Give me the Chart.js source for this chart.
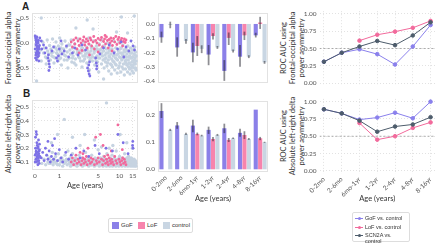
<!DOCTYPE html>
<html>
<head>
<meta charset="utf-8">
<script src="https://cdn.jsdelivr.net/npm/chart.js@4.4.0/dist/chart.umd.min.js"></script>
<style>
  body { margin: 0; background: #fff; width: 440px; height: 244px; position: relative; overflow: hidden; font-family: Lato, sans-serif; }
  canvas { position: absolute; }
  .panel { position: absolute; font-weight: bold; font-size: 10px; color: #222; font-family: "Liberation Sans", Arial, sans-serif; }
  .ytitle { position: absolute; transform: translate(-50%, -50%) rotate(-90deg); white-space: pre; text-align: center; font-size: 7.5px; line-height: 9px; color: #333; }
  .legend { position: absolute; border: 1px solid #ddd; border-radius: 2px; font-family: "Liberation Sans", Arial, sans-serif; color: #333; background: #fff; }
  .legend span { position: absolute; }
</style>
</head>
<body>
<div class="panel" style="left:22px;top:1px">A</div>
<div class="panel" style="left:23px;top:88px">B</div>

<div class="ytitle" style="left:13px;top:48px">Frontal-occipital alpha
power asymmetry</div>
<div class="ytitle" style="left:13px;top:134px">Absolute left-right delta
power asymmetry</div>
<div class="ytitle" style="left:292px;top:48px">ROC AUC using
Frontal-occipital alpha
power asymmetry</div>
<div class="ytitle" style="left:292px;top:136px">ROC AUC using
Absolute left-right delta
power asymmetry</div>

<canvas id="scatterA" width="142" height="91" style="left:0;top:0"></canvas>
<canvas id="barA" width="130" height="91" style="left:140px;top:0"></canvas>
<canvas id="rocA" width="170" height="94" style="left:270px;top:0"></canvas>
<canvas id="scatterB" width="142" height="102" style="left:0;top:88px"></canvas>
<canvas id="barB" width="130" height="115" style="left:140px;top:88px"></canvas>
<canvas id="rocB" width="170" height="115" style="left:270px;top:88px"></canvas>

<!-- bar / scatter legend -->
<div class="legend" style="left:108px;top:218px;width:83px;height:13px;font-size:6px">
  <span style="left:3px;top:3px;width:7px;height:7px;background:#8b80e8"></span>
  <span style="left:12px;top:3px">GoF</span>
  <span style="left:29px;top:3px;width:7px;height:7px;background:#f784ad"></span>
  <span style="left:38px;top:3px">LoF</span>
  <span style="left:54px;top:3px;width:7px;height:7px;background:#c9d6e3"></span>
  <span style="left:63px;top:3px">control</span>
</div>

<!-- ROC legend -->
<div class="legend" style="left:352px;top:212px;width:56px;height:28px;font-size:5.5px">
  <span style="left:2px;top:5px;width:8px;height:1px;background:#8a80ec"></span>
  <span style="left:4.5px;top:4px;width:3px;height:3px;border-radius:50%;background:#8a80ec"></span>
  <span style="left:12px;top:2px">GoF vs. control</span>
  <span style="left:2px;top:13.5px;width:8px;height:1px;background:#f26a9c"></span>
  <span style="left:4.5px;top:12.5px;width:3px;height:3px;border-radius:50%;background:#f26a9c"></span>
  <span style="left:12px;top:10.5px">LoF vs. control</span>
  <span style="left:2px;top:22px;width:8px;height:1px;background:#4d5c6b"></span>
  <span style="left:4.5px;top:21px;width:3px;height:3px;border-radius:50%;background:#4d5c6b"></span>
  <span style="left:12px;top:19px">SCN2A vs. control</span>
</div>

<script>
// ---- data ----
const ageTicks = [0, 1, 5, 10, 15];
const ageGroups = ['0-2mo', '2-6mo', '6mo-1yr', '1-2yr', '2-4yr', '4-8yr', '8-16yr'];

// scatter A: [age in years, frontal-occipital alpha asymmetry]
const gofAlphaPts = [[0.01,0.14],[0.02,0.1],[0.03,0.06],[0.04,0.02],[0.05,-0.02],[0.06,-0.06],[0.07,-0.1],[0.08,-0.14],[0.09,-0.18],[0.1,-0.22],
  [0.11,-0.26],[0.02,-0.3],[0.03,-0.04],[0.05,0.08],[0.07,-0.16],[0.09,0.04],[0.12,-0.08],[0.13,-0.12],[0.04,-0.2],[0.06,0.12],
  [0.08,-0.28],[0.1,0.0],[0.12,-0.36],[0.14,-0.05],[0.15,0.1],[0.01,-0.12],[0.03,-0.24],[0.11,0.05],[0.13,-0.2],[0.05,-0.34],
  [0.22,-0.12],[0.28,-0.04],[0.33,-0.2],[0.38,-0.1],[0.45,-0.3],[0.48,-0.36],[0.5,-0.42],[0.52,-0.48],[0.49,-0.55],[0.47,-0.24],
  [0.62,-0.16],[0.7,-0.08],[0.85,-0.3],[0.9,-0.36],[0.95,-0.26],[1.0,-0.12],[1.15,-0.22],[1.3,-0.16],[1.45,-0.06],[1.6,-0.28],
  [1.9,-0.2],[2.1,-0.1],[2.4,-0.24],[2.8,-0.04],[3.2,-0.14],[3.45,-0.5],[3.55,-0.56],[3.65,-0.62],[3.75,-0.66],[3.6,-0.44],
  [3.7,-0.38],[4.6,-0.3],[4.7,-0.4],[4.8,-0.46],[4.75,-0.52],[6.0,-0.1],[7.2,-0.04],[8.4,-0.2],[9.4,-0.12],[10.5,0.02],
  [12.2,-0.08],[13.3,-0.16],[14.2,0.04],[15.1,-0.06],[15.8,-0.14],[1.1,0.04],[0.2,0.04],[5.3,-0.22],[11.4,-0.28]];
const lofAlphaPts = [[1.8,0.02],[1.9,-0.08],[2.0,0.06],[2.1,-0.02],[2.2,0.1],[2.3,-0.12],[2.4,0.04],[2.5,-0.05],[2.6,0.08],[2.7,0.0],
  [2.8,-0.15],[2.9,0.05],[3.0,0.12],[3.1,-0.04],[3.2,0.02],[3.3,0.08],[3.4,-0.1],[3.5,0.04],[3.6,-0.02],[3.8,0.1],
  [3.9,0.06],[4.0,-0.06],[4.2,0.02],[4.3,0.13],[4.4,-0.12],[4.6,0.05],[4.8,0.0],[5.0,0.09],[5.2,-0.04],[5.4,0.06],
  [5.6,0.11],[5.8,-0.08],[6.0,0.03],[6.2,0.08],[6.4,-0.02],[6.6,0.12],[6.8,0.05],[7.0,-0.1],[7.2,0.07],[7.4,0.0],
  [7.6,0.1],[7.8,0.04],[8.0,-0.05],[8.3,0.09],[8.6,0.02],[8.9,0.13],[9.2,-0.03],[9.5,0.07],[9.8,0.11],[10.1,0.0],
  [10.4,0.05],[10.7,0.09],[11.0,-0.06],[11.3,0.03],[11.6,0.08],[11.9,0.01],[12.2,0.06],[2.5,-0.2],[5.0,-0.18],[7.9,-0.16],
  [3.7,-0.24],[6.3,0.15]];
const ctrlAlphaPts = [[0.03,-0.18],[0.06,-0.3],[0.1,-0.08],[0.12,-0.24],[0.18,-0.14],[0.2,-0.36],[0.25,0.02],[0.28,-0.2],
  [0.32,-0.1],[0.35,-0.28],[0.38,-0.42],[0.42,0.06],[0.44,-0.16],[0.48,-0.22],[0.52,-0.05],[0.55,-0.34],
  [0.58,-0.12],[0.62,-0.26],[0.65,0.08],[0.68,-0.18],[0.72,-0.4],[0.75,-0.08],[0.78,-0.3],[0.82,0.02],
  [0.85,-0.2],[0.88,-0.14],[0.92,-0.36],[0.95,-0.06],[0.98,-0.24],[1.02,0.1],[1.05,-0.16],[1.08,-0.3],
  [1.12,-0.44],[1.15,-0.02],[1.2,-0.2],[1.25,-0.12],[1.3,-0.34],[1.35,0.04],[1.4,-0.26],[1.45,-0.08],
  [1.5,-0.18],[1.55,-0.5],[1.6,-0.04],[1.65,-0.3],[1.7,-0.14],[1.75,-0.22],[1.8,0.06],[1.85,-0.38],
  [1.9,-0.1],[1.95,-0.26],[2.0,-0.18],[2.1,-0.02],[2.15,-0.32],[2.2,-0.44],[2.25,-0.12],[2.3,-0.22],
  [2.4,0.08],[2.45,-0.28],[2.5,-0.16],[2.6,-0.06],[2.65,-0.36],[2.7,-0.2],[2.8,-0.48],[2.85,-0.1],
  [2.9,-0.26],[3.0,0.02],[3.05,-0.16],[3.1,-0.32],[3.2,-0.22],[3.3,-0.08],[3.35,-0.4],[3.4,-0.14],
  [3.5,-0.28],[3.6,0.1],[3.65,-0.2],[3.7,-0.54],[3.8,-0.04],[3.85,-0.3],[3.9,-0.16],[4.0,-0.24],
  [4.1,-0.36],[4.2,-0.1],[4.3,0.04],[4.35,-0.2],[4.45,-0.44],[4.5,-0.3],[4.6,-0.14],[4.7,-0.06],
  [4.8,-0.26],[4.9,-0.38],[5.0,-0.18],[5.1,-0.58],[5.2,-0.02],[5.3,-0.3],[5.4,-0.22],[5.5,-0.12],
  [5.6,-0.42],[5.7,0.06],[5.8,-0.26],[5.9,-0.34],[6.0,-0.16],[6.1,-0.5],[6.2,-0.08],[6.3,-0.24],
  [6.4,-0.38],[6.5,-0.3],[6.6,-0.12],[6.7,-0.46],[6.8,0.0],[6.9,-0.2],[7.0,-0.34],[7.1,-0.56],
  [7.2,-0.16],[7.3,-0.28],[7.4,-0.06],[7.5,-0.42],[7.6,-0.22],[7.7,-0.62],[7.8,-0.32],[7.9,-0.12],
  [8.0,-0.48],[8.2,-0.26],[8.3,0.04],[8.4,-0.38],[8.5,-0.18],[8.6,-0.54],[8.8,-0.3],[8.9,-0.1],
  [9.0,-0.44],[9.2,-0.24],[9.3,-0.6],[9.4,-0.34],[9.6,-0.16],[9.7,-0.5],[9.8,0.02],[10.0,-0.28],
  [10.1,-0.4],[10.3,-0.2],[10.4,-0.58],[10.5,-0.1],[10.7,-0.34],[10.8,-0.48],[11.0,-0.24],[11.1,-0.04],
  [11.3,-0.42],[11.4,-0.3],[11.6,-0.64],[11.7,-0.18],[11.9,-0.36],[12.0,-0.52],[12.2,-0.12],[12.3,-0.28],
  [12.5,-0.44],[12.6,-0.22],[12.8,-0.58],[12.9,-0.06],[13.1,-0.34],[13.2,-0.48],[13.4,-0.16],[13.5,-0.4],
  [13.7,-0.26],[13.8,-0.62],[14.0,-0.1],[14.1,-0.3],[14.3,-0.5],[14.4,-0.2],[14.6,-0.38],[14.7,-0.56],
  [14.9,-0.14],[15.0,-0.28],[15.2,-0.44],[15.3,-0.6],[15.5,-0.22],[15.6,-0.34],[15.8,-0.5],[15.9,-0.08],
  [16.1,-0.3],[16.2,-0.42],[16.4,-0.18],[16.5,-0.54],[16.6,-0.36],
  [0.4,-0.3],[0.6,-0.2],[0.7,-0.28],[0.8,-0.1],[0.9,-0.22],[1.0,-0.32],[1.1,-0.1],[1.3,-0.24],[1.5,-0.34],[1.7,-0.04],
  [1.9,-0.3],[2.05,-0.4],[2.35,-0.18],[2.55,-0.3],[2.75,-0.12],[2.95,-0.36],[3.15,-0.26],[3.45,-0.2],[3.75,-0.34],[3.95,-0.1],
  [4.15,-0.28],[4.4,-0.16],[4.65,-0.36],[4.85,-0.12],[5.05,-0.3],[5.35,-0.14],[5.65,-0.2],[5.95,-0.06],[6.25,-0.32],[6.55,-0.2],
  [6.85,-0.4],[7.15,-0.26],[7.45,-0.14],[7.75,-0.44],[8.1,-0.36],[8.45,-0.24],[8.75,-0.42],[9.1,-0.32],[9.5,-0.22],[9.9,-0.46],
  [10.2,-0.12],[10.6,-0.3],[10.9,-0.2],[11.2,-0.52],[11.5,-0.14],[11.8,-0.26],[12.1,-0.4],[12.4,-0.34],[12.7,-0.16],[13.0,-0.42],
  [13.3,-0.28],[13.6,-0.52],[13.9,-0.2],[14.2,-0.44],[14.5,-0.3],[14.8,-0.48],[15.1,-0.36],[15.4,-0.14],[15.7,-0.4],[16.0,-0.24],
  [16.3,-0.5],[16.6,-0.26],
  [0.2,0.5],[3.4,0.46],[10.6,0.52],[15.7,0.54],[6.0,-0.72],[0.05,-0.76],[4.2,0.28],[9.1,0.22],[12.8,0.2],[2.2,0.3]];

// scatter B: [age in years, absolute left-right delta asymmetry]
const gofDeltaPts = [[0.01,0.15],[0.02,0.2],[0.03,0.12],[0.04,0.18],[0.05,0.1],[0.06,0.24],[0.07,0.14],[0.08,0.17],[0.09,0.11],[0.1,0.21],
  [0.11,0.13],[0.12,0.16],[0.13,0.09],[0.14,0.19],[0.02,0.28],[0.04,0.32],[0.05,0.3],[0.07,0.22],[0.09,0.08],[0.11,0.26],
  [0.03,0.16],[0.06,0.13],[0.08,0.2],[0.1,0.15],[0.12,0.11],[0.14,0.23],[0.15,0.14],[0.01,0.1],[0.13,0.18],[0.05,0.17],
  [0.2,0.13],[0.25,0.17],[0.3,0.11],[0.35,0.2],[0.4,0.15],[0.45,0.12],[0.5,0.18],[0.55,0.1],[0.6,0.14],[0.65,0.22],
  [0.7,0.12],[0.8,0.16],[0.9,0.11],[1.0,0.19],[1.1,0.13],[1.2,0.1],[1.4,0.17],[1.6,0.12],[1.8,0.15],[2.2,0.2],
  [2.6,0.13],[3.0,0.18],[3.6,0.14],[4.5,0.22],[5.2,0.16],[6.5,0.2],[8.0,0.18],[9.5,0.3],[11.2,0.24],[13.0,0.16],
  [15.0,0.25],[15.1,0.2],[14.9,0.22],[0.75,0.27],[0.45,0.25]];
const lofDeltaPts = [[1.8,0.1],[1.9,0.13],[2.0,0.08],[2.1,0.11],[2.2,0.15],[2.3,0.09],[2.4,0.12],[2.5,0.1],[2.6,0.17],[2.7,0.08],
  [2.8,0.11],[2.9,0.13],[3.0,0.09],[3.1,0.12],[3.2,0.1],[3.3,0.14],[3.4,0.08],[3.6,0.11],[3.8,0.09],[3.9,0.13],
  [4.0,0.1],[4.2,0.12],[4.4,0.08],[4.6,0.28],[4.7,0.11],[4.8,0.09],[5.0,0.13],[5.2,0.1],[5.4,0.3],[5.6,0.12],
  [5.8,0.08],[6.0,0.11],[6.2,0.14],[6.4,0.09],[6.6,0.12],[6.8,0.1],[7.0,0.08],[7.2,0.13],[7.4,0.11],[7.6,0.09],
  [7.8,0.12],[8.0,0.1],[8.3,0.08],[8.6,0.14],[8.9,0.11],[9.2,0.09],[9.5,0.37],[9.8,0.12],[10.1,0.1],[10.4,0.08],
  [10.7,0.11],[11.0,0.13],[11.3,0.09],[11.6,0.12],[11.9,0.1],[12.2,0.08],[3.5,0.2],[5.9,0.22],[7.7,0.18],[10.9,0.19],
  [2.9,0.16],[6.9,0.15]];
const ctrlDeltaPts = [[0.05,0.12],[0.1,0.1],[0.15,0.14],[0.22,0.09],[0.3,0.12],[0.36,0.08],[0.4,0.15],[0.45,0.1],
  [0.5,0.13],[0.55,0.09],[0.6,0.11],[0.64,0.17],[0.68,0.08],[0.72,0.12],[0.76,0.1],[0.8,0.14],
  [0.85,0.09],[0.9,0.11],[0.95,0.16],[1.0,0.08],[1.05,0.12],[1.1,0.1],[1.15,0.13],[1.2,0.07],
  [1.25,0.11],[1.3,0.09],[1.35,0.15],[1.4,0.1],[1.45,0.12],[1.5,0.08],[1.55,0.18],[1.6,0.11],
  [1.65,0.09],[1.7,0.13],[1.75,0.07],[1.8,0.1],[1.85,0.12],[1.9,0.16],[1.95,0.09],[2.0,0.11],
  [2.1,0.08],[2.15,0.13],[2.2,0.1],[2.3,0.07],[2.35,0.12],[2.4,0.09],[2.5,0.15],[2.55,0.11],
  [2.6,0.08],[2.7,0.1],[2.8,0.13],[2.85,0.07],[2.9,0.09],[3.0,0.12],[3.1,0.1],[3.2,0.17],
  [3.25,0.08],[3.3,0.11],[3.4,0.09],[3.5,0.13],[3.6,0.07],[3.7,0.1],[3.8,0.12],[3.9,0.08],
  [4.0,0.15],[4.1,0.1],[4.2,0.09],[4.3,0.11],[4.4,0.07],[4.5,0.13],[4.6,0.1],[4.7,0.08],
  [4.8,0.12],[4.9,0.09],[5.0,0.19],[5.1,0.11],[5.2,0.07],[5.3,0.1],[5.4,0.13],[5.5,0.08],
  [5.6,0.12],[5.7,0.09],[5.8,0.11],[5.9,0.07],[6.0,0.14],[6.1,0.1],[6.2,0.08],[6.3,0.12],
  [6.4,0.09],[6.5,0.11],[6.6,0.07],[6.7,0.16],[6.8,0.1],[6.9,0.08],[7.0,0.12],[7.1,0.09],
  [7.2,0.11],[7.3,0.07],[7.4,0.13],[7.5,0.1],[7.6,0.08],[7.7,0.12],[7.8,0.09],[7.9,0.15],
  [8.0,0.07],[8.2,0.11],[8.3,0.1],[8.4,0.08],[8.5,0.13],[8.6,0.09],[8.8,0.11],[8.9,0.07],
  [9.0,0.18],[9.2,0.1],[9.3,0.08],[9.4,0.12],[9.6,0.09],[9.7,0.11],[9.8,0.07],[10.0,0.14],
  [10.1,0.1],[10.3,0.08],[10.4,0.12],[10.5,0.09],[10.7,0.11],[10.8,0.07],[11.0,0.13],[11.1,0.1],
  [11.3,0.08],[11.4,0.12],[11.6,0.09],[11.7,0.16],[11.9,0.07],[12.0,0.11],[12.2,0.1],[12.3,0.08],
  [12.5,0.13],[12.6,0.09],[12.8,0.11],[12.9,0.07],[13.1,0.1],[13.2,0.14],[13.4,0.08],[13.5,0.12],
  [13.7,0.09],[13.8,0.11],[14.0,0.07],[14.1,0.1],[14.3,0.13],[14.4,0.08],[14.6,0.09],[14.7,0.12],
  [14.9,0.07],[15.0,0.1],[15.2,0.11],[15.3,0.08],[15.5,0.09],[15.6,0.12],[15.8,0.07],[15.9,0.1],
  [16.1,0.08],[16.2,0.11],[16.4,0.09],[16.5,0.07],
  [0.5,0.09],[0.7,0.1],[0.9,0.08],[1.1,0.12],[1.3,0.1],[1.5,0.11],[1.7,0.09],[1.9,0.08],[2.2,0.12],[2.5,0.09],
  [2.8,0.1],[3.1,0.08],[3.4,0.11],[3.7,0.09],[4.0,0.08],[4.3,0.1],[4.6,0.12],[4.9,0.11],[5.2,0.09],[5.5,0.1],
  [5.8,0.09],[6.1,0.12],[6.4,0.1],[6.7,0.08],[7.0,0.1],[7.3,0.11],[7.6,0.1],[7.9,0.08],[8.2,0.09],[8.5,0.1],
  [8.8,0.08],[9.1,0.11],[9.5,0.1],[9.9,0.09],[10.3,0.1],[10.7,0.09],[11.1,0.08],[11.5,0.1],[11.9,0.09],[12.3,0.1],
  [12.7,0.08],[13.1,0.12],[13.5,0.1],[13.9,0.09],[14.3,0.1],[14.7,0.08],[15.1,0.09],[15.5,0.11],[15.9,0.09],[16.3,0.1],
  [1.3,0.41],[6.6,0.53],[0.9,0.3],[3.1,0.3],[10.2,0.3],[1.9,0.28],[4.4,0.26],[8.1,0.22],[12.5,0.24],[0.6,0.24],
  [2.6,0.22],[14.8,0.2],[7.2,0.2],[5.6,0.21]];

// bar A: mean and 95% CI per age group
const gofAlphaMean = [-0.094, -0.165, -0.2, -0.215, -0.33, -0.23, -0.08];
const gofAlphaLo   = [-0.132, -0.23, -0.27, -0.29, -0.4, -0.3, -0.095];
const gofAlphaHi   = [-0.054, -0.094, -0.132, -0.148, -0.254, -0.148, -0.062];
const lofAlphaMean = [null, null, -0.155, -0.085, -0.098, -0.08, 0.01];
const lofAlphaLo   = [null, null, -0.225, -0.11, -0.148, -0.113, -0.035];
const lofAlphaHi   = [null, null, -0.085, -0.065, -0.06, -0.054, 0.05];
const ctrlAlphaMean = [-0.007, -0.12, -0.175, -0.165, -0.19, -0.23, -0.27];
const ctrlAlphaLo   = [-0.03, -0.14, -0.205, -0.175, -0.2, -0.24, -0.28];
const ctrlAlphaHi   = [0.016, -0.105, -0.15, -0.155, -0.18, -0.22, -0.26];

// bar B
const gofDeltaMean = [0.216, 0.1625, 0.162, 0.146, 0.152, 0.135, 0.221];
const gofDeltaLo   = [0.19, 0.15, 0.137, 0.131, 0.134, 0.121, null];
const gofDeltaHi   = [0.245, 0.175, 0.184, 0.158, 0.169, 0.15, null];
const lofDeltaMean = [null, null, 0.131, 0.1125, 0.109, 0.127, 0.115];
const lofDeltaLo   = [null, null, 0.126, 0.104, 0.101, 0.112, 0.108];
const lofDeltaHi   = [null, null, 0.136, 0.12, 0.116, 0.141, 0.12];
const ctrlDeltaMean = [0.146, 0.131, 0.125, 0.1275, 0.115, 0.1125, 0.1];
const ctrlDeltaLo   = [0.142, 0.127, 0.122, 0.124, 0.112, 0.109, 0.098];
const ctrlDeltaHi   = [0.15, 0.135, 0.128, 0.131, 0.118, 0.116, 0.102];

// ROC AUC per age group
const rocAlphaGof = [0.31, 0.44, 0.49, 0.42, 0.27, 0.53, 0.84];
const rocAlphaLof = [null, null, 0.615, 0.70, 0.745, 0.80, 0.90];
const rocAlphaScn = [0.31, 0.44, 0.53, 0.61, 0.55, 0.69, 0.88];
const rocDeltaGof = [0.89, 0.83, 0.74, 0.77, 0.84, 0.76, 1.0];
const rocDeltaLof = [null, null, 0.69, 0.45, 0.50, 0.62, 0.70];
const rocDeltaScn = [0.89, 0.83, 0.725, 0.565, 0.64, 0.67, 0.775];
const chanceLevel = 0.5;

// ---- styles ----
const gofColor = '#8b80e8';
const lofColor = '#f784ad';
const ctrlColor = '#c9d6e3';
const scnColor = '#4d5c6b';
const ciColor = 'rgba(30,30,40,0.5)';
const tickFont = {family: 'Lato', size: 6.5};
const titleFont = {family: 'Lato', size: 7.5};
const tickColor = '#555';

Chart.defaults.font.family = 'Lato';

// light box round the plot area
const boxBorder = {
    id: 'boxBorder',
    beforeDatasetsDraw(chart) {
        const {ctx, chartArea: a} = chart;
        ctx.save();
        ctx.strokeStyle = '#e2e2e2';
        ctx.lineWidth = 1;
        ctx.strokeRect(a.left + 0.5, a.top + 0.5, a.width - 1, a.height - 1);
        ctx.restore();
    }
};

function valueAxis(min, max, tickVals, digits, width, showGrid) {
    return {
        type: 'linear', min: min, max: max, stacked: false,
        afterBuildTicks: s => { s.ticks = tickVals.map(v => ({value: v})); },
        afterFit: s => { s.width = width; },
        ticks: {font: tickFont, color: tickColor, padding: 3, callback: v => v.toFixed(digits)},
        grid: {display: showGrid, color: '#e2e2e2', drawTicks: false},
        border: {display: false, dash: [1, 2]}
    };
}

// x axis for the scatters: age drawn on a log(1 + age) scale
function ageAxis(showLabels, height) {
    return {
        type: 'linear', min: -0.08, max: 2.92,
        afterBuildTicks: s => { s.ticks = ageTicks.map(a => ({value: Math.log1p(a)})); },
        afterFit: s => { s.height = height; },
        ticks: {display: showLabels, font: tickFont, color: tickColor, padding: 2, maxRotation: 0, autoSkip: false,
                callback: (v, i) => String(ageTicks[i])},
        grid: {color: '#e2e2e2', drawTicks: false},
        border: {display: false, dash: [1, 2]},
        title: {display: showLabels, text: 'Age (years)', font: titleFont, color: '#333', padding: 0}
    };
}

function groupAxis(type, showLabels, height) {
    const axis = {
        type: type,
        afterFit: s => { s.height = height; },
        ticks: {display: showLabels, font: tickFont, color: tickColor, padding: 2, autoSkip: false,
                minRotation: 45, maxRotation: 45},
        grid: {display: type === 'linear', color: '#e2e2e2', drawTicks: false},
        border: {display: false, dash: [1, 2]},
        title: {display: showLabels, text: 'Age (years)', font: titleFont, color: '#333', padding: 0}
    };
    if (type === 'linear') {
        axis.min = -0.25;
        axis.max = ageGroups.length - 0.75;
        axis.afterBuildTicks = s => { s.ticks = ageGroups.map((g, i) => ({value: i})); };
        axis.ticks.callback = (v, i) => ageGroups[i];
    }
    return axis;
}

const toPts = arr => arr.map(([age, v]) => ({x: Math.log1p(age), y: v}));

function scatterConfig(gof, lof, ctrl, yAxis, xAxis, padTop) {
    const pt = (label, arr, color, r) => ({label: label, data: toPts(arr), backgroundColor: color,
                                            borderWidth: 0, pointRadius: r});
    return {
        type: 'scatter',
        data: {datasets: [pt('GoF', gof, '#7d71e6', 1.4), pt('LoF', lof, '#f2699c', 1.4), pt('control', ctrl, '#c6d3e1', 1.7)]},
        options: {
            responsive: false, animation: false,
            layout: {padding: {left: 4, top: padTop, right: 2, bottom: 0}},
            plugins: {legend: {display: false}, tooltip: {enabled: false}},
            scales: {x: xAxis, y: yAxis}
        },
        plugins: [boxBorder]
    };
}

function barSets(label, means, los, his, color) {
    return [
        {label: label, data: means, backgroundColor: color, stack: label, order: 1,
         barPercentage: 0.94, categoryPercentage: 0.84},
        {label: label + ' CI', data: los.map((lo, i) => lo == null ? null : [lo, his[i]]),
         backgroundColor: ciColor, stack: label, order: 0, barPercentage: 0.4, categoryPercentage: 0.84}
    ];
}

function barConfig(sets, yAxis, xAxis, padTop) {
    return {
        type: 'bar',
        data: {labels: ageGroups, datasets: sets},
        options: {
            responsive: false, animation: false,
            layout: {padding: {left: 0, top: padTop, right: 2, bottom: 0}},
            plugins: {legend: {display: false}, tooltip: {enabled: false}},
            scales: {x: xAxis, y: yAxis}
        },
        plugins: [boxBorder]
    };
}

function rocConfig(gof, lof, scn, xAxis, padTop) {
    const pts = arr => arr.map((v, i) => ({x: i, y: v}));
    const line = (label, arr, color, order) => ({label: label, data: pts(arr), borderColor: color, backgroundColor: color,
                                                  borderWidth: 1, pointRadius: 1.8, order: order});
    return {
        type: 'line',
        data: {datasets: [
            line('GoF vs. control', gof, '#8a80ec', 1),
            line('LoF vs. control', lof, '#f26a9c', 2),
            line('SCN2A vs. control', scn, scnColor, 0),
            {label: 'chance', data: [{x: -0.25, y: chanceLevel}, {x: ageGroups.length - 0.75, y: chanceLevel}],
             borderColor: '#9a9a9a', borderDash: [2, 2], borderWidth: 0.8, pointRadius: 0, order: 3}
        ]},
        options: {
            responsive: false, animation: false,
            layout: {padding: {left: 8.5, top: padTop, right: 5, bottom: 0}},
            plugins: {legend: {display: false}, tooltip: {enabled: false}},
            scales: {x: xAxis, y: valueAxis(-0.04, 1.04, [0, 0.25, 0.5, 0.75, 1], 2, 41, true)}
        }
    };
}

// ---- render ----
new Chart(document.getElementById('scatterA'),
    scatterConfig(gofAlphaPts, lofAlphaPts, ctrlAlphaPts,
        valueAxis(-0.8, 0.6, [-0.5, 0, 0.5], 1, 28, true), ageAxis(false, 8), 13));

new Chart(document.getElementById('scatterB'),
    scatterConfig(gofDeltaPts, lofDeltaPts, ctrlDeltaPts,
        valueAxis(0.042, 0.551, [0.1, 0.2, 0.3, 0.4, 0.5], 1, 28, true), ageAxis(true, 20), 12));

new Chart(document.getElementById('barA'), barConfig(
    [...barSets('GoF', gofAlphaMean, gofAlphaLo, gofAlphaHi, gofColor),
     ...barSets('LoF', lofAlphaMean, lofAlphaLo, lofAlphaHi, lofColor),
     ...barSets('control', ctrlAlphaMean, ctrlAlphaLo, ctrlAlphaHi, ctrlColor)],
    valueAxis(-0.415, 0.077, [0, -0.1, -0.2, -0.3, -0.4], 1, 18, false), groupAxis('category', false, 8), 13));

new Chart(document.getElementById('barB'), barConfig(
    [...barSets('GoF', gofDeltaMean, gofDeltaLo, gofDeltaHi, gofColor),
     ...barSets('LoF', lofDeltaMean, lofDeltaLo, lofDeltaHi, lofColor),
     ...barSets('control', ctrlDeltaMean, ctrlDeltaLo, ctrlDeltaHi, ctrlColor)],
    valueAxis(-0.01, 0.253, [0, 0.1, 0.2], 1, 18, false), groupAxis('category', true, 31), 13));

new Chart(document.getElementById('rocA'),
    rocConfig(rocAlphaGof, rocAlphaLof, rocAlphaScn, groupAxis('linear', false, 8), 11.2));

new Chart(document.getElementById('rocB'),
    rocConfig(rocDeltaGof, rocDeltaLof, rocDeltaScn, groupAxis('linear', true, 29.5), 10.9));
</script>
</body>
</html>
